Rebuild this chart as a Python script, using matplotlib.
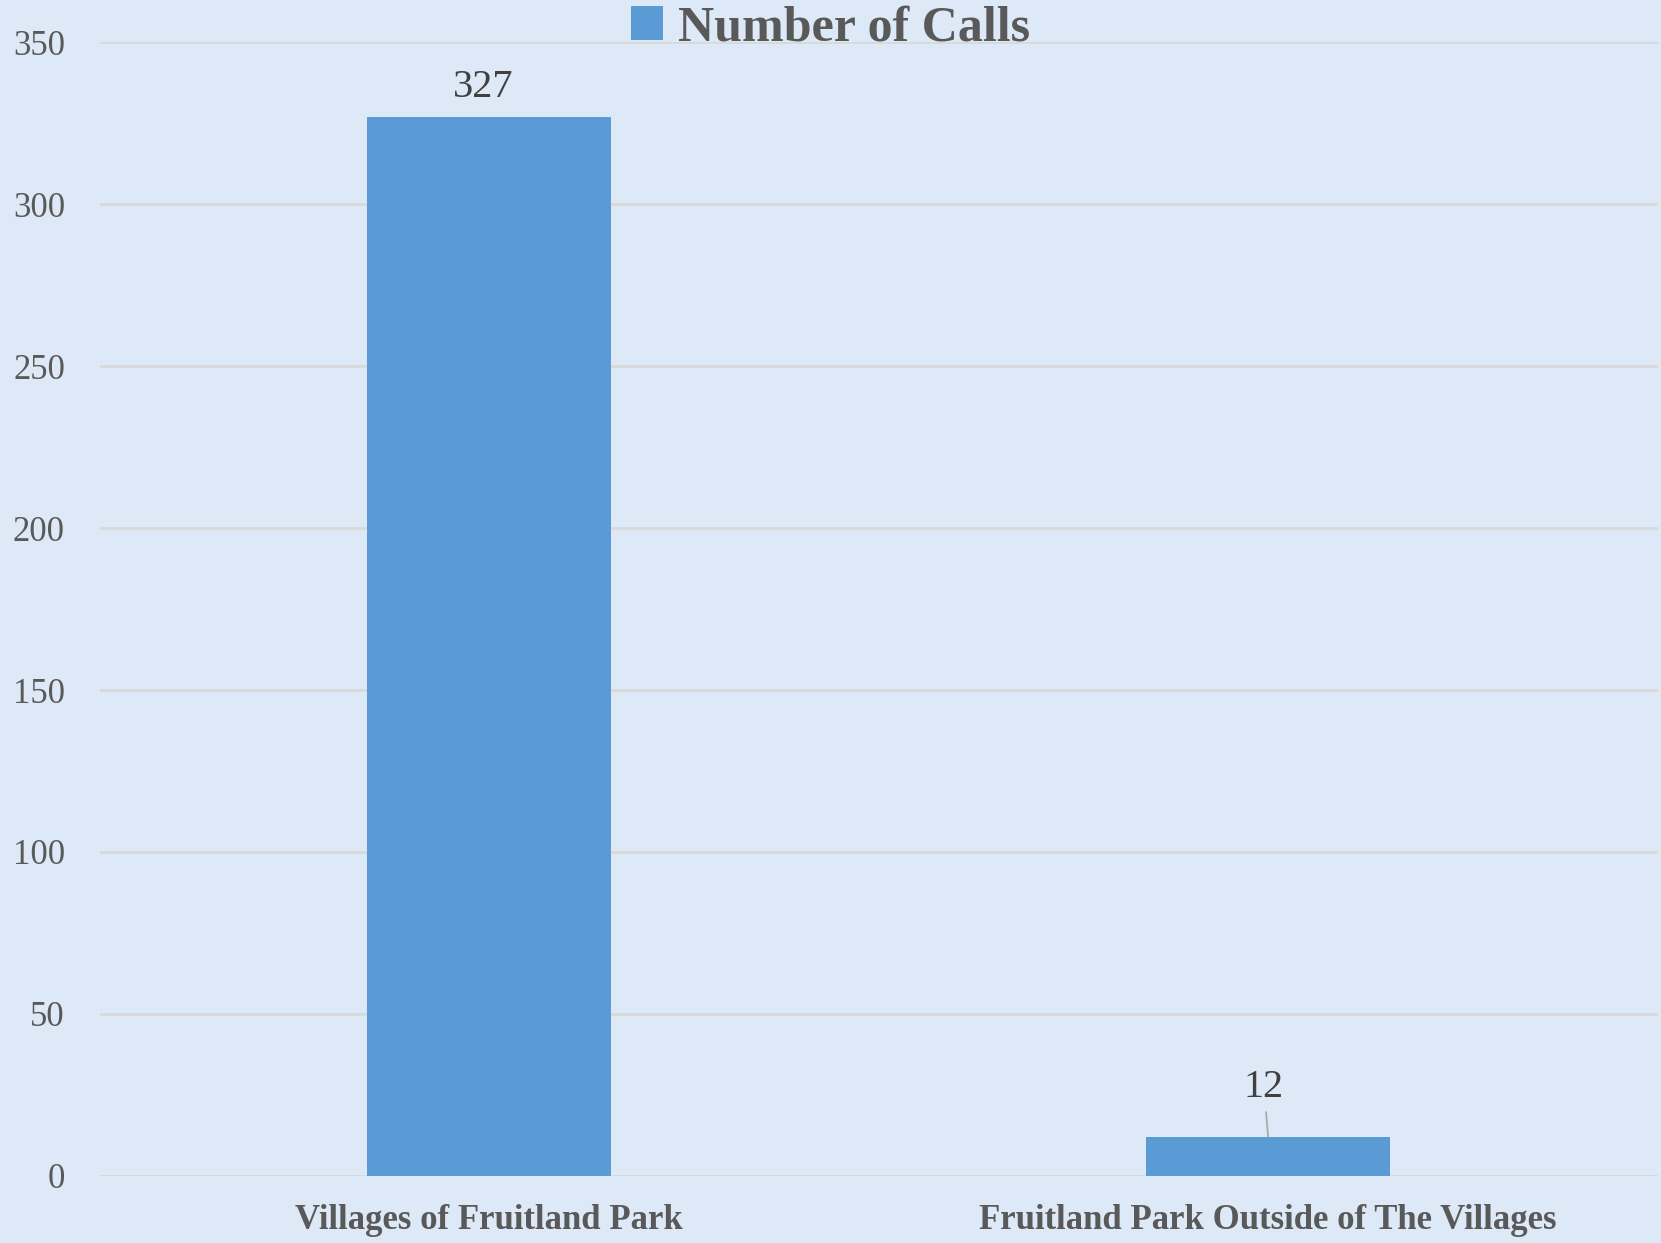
import matplotlib.pyplot as plt
from matplotlib.patches import Patch

# chart data
categories = ["Villages of Fruitland Park", "Fruitland Park Outside of The Villages"]
calls = [327, 12]
series_name = "Number of Calls"
y_ticks = [0, 50, 100, 150, 200, 250, 300, 350]

bar_color = "#5b9bd5"
text_color = "#595959"
bg_color = "#dde9f6"

plt.rcParams["font.family"] = ["Liberation Serif", "DejaVu Serif"]

fig = plt.figure(figsize=(16.61, 12.43), dpi=100, facecolor=bg_color)
ax = fig.add_axes([0.060, 0.054, 0.938, 0.912])
ax.set_facecolor(bg_color)

x = list(range(len(categories)))
bars = ax.bar(x, calls, width=0.313, color=bar_color, zorder=3)

ax.set_xlim(-0.5, 1.5)
ax.set_ylim(0, 350)
ax.set_yticks(y_ticks)
ax.set_yticklabels([str(t) for t in y_ticks], fontsize=25, color=text_color)
ax.set_xticks(x)
ax.set_xticklabels(categories, fontsize=25, color=text_color, fontweight="bold")
ax.tick_params(axis="both", length=0)
ax.tick_params(axis="y", pad=25)
ax.tick_params(axis="x", pad=20)
ax.grid(axis="y", color="#d9d9d9", linewidth=2, zorder=0)
for s in ax.spines.values():
    s.set_visible(False)
ax.axhline(0, color="#d9d9d9", linewidth=2, zorder=2)

# data labels
ax.annotate(str(calls[0]), xy=(x[0], calls[0]), xytext=(-4, 8),
            textcoords="offset points", ha="center", va="bottom",
            fontsize=29, color="#404040")
ax.annotate(str(calls[1]), xy=(x[1], calls[1]), xytext=(-3, 22),
            textcoords="offset points", ha="center", va="bottom",
            fontsize=29, color="#404040",
            arrowprops=dict(arrowstyle="-", color="#a6a6a6", lw=1.2,
                            shrinkA=2, shrinkB=0))

leg = fig.legend(handles=[Patch(facecolor=bar_color, label=series_name)],
                 loc="center", bbox_to_anchor=(0.5, 0.977), frameon=False,
                 fontsize=36, handlelength=0.65, handleheight=0.65,
                 handletextpad=0.3, borderpad=0)
for t in leg.get_texts():
    t.set_color(text_color)
    t.set_fontweight("bold")

fig.savefig("out.png", dpi=100, facecolor=bg_color)
